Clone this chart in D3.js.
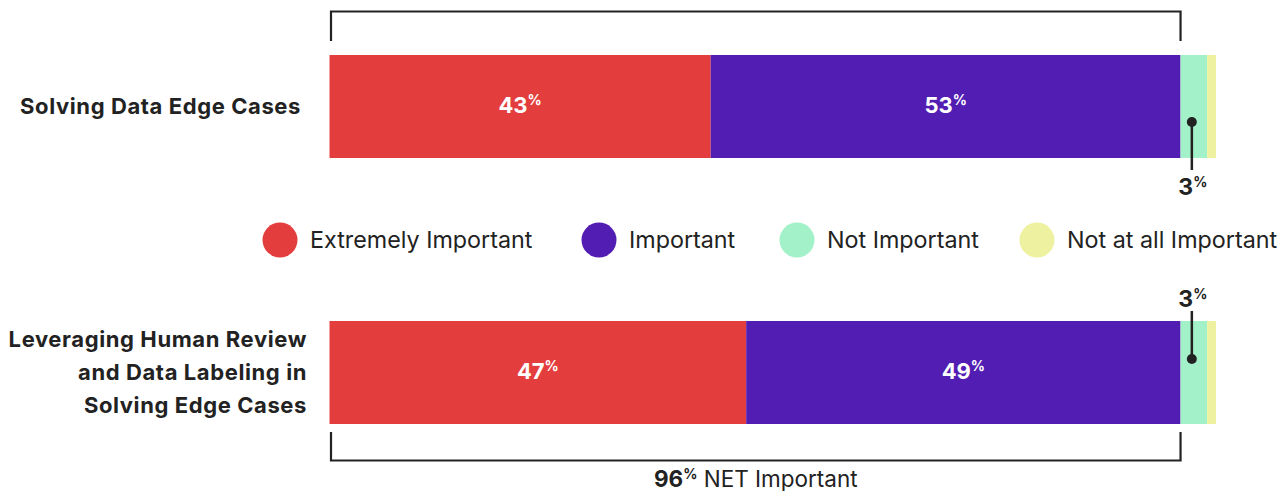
<!DOCTYPE html>
<html>
<head>
<meta charset="utf-8">
<script src="https://cdn.jsdelivr.net/npm/d3@7"></script>
<style>
  html, body { margin: 0; padding: 0; background: #fff; }
  svg { display: block; font-family: Inter, "Noto Sans", sans-serif; }
</style>
</head>
<body>
<svg id="chart" width="1286" height="491"></svg>
<script>
// Survey items and response shares (%)
const questions = [
  ["Solving Data Edge Cases"],
  ["Leveraging Human Review", "and Data Labeling in", "Solving Edge Cases"]
];
const responses = ["Extremely Important", "Important", "Not Important", "Not at all Important"];
const colors = ["#e33e3d", "#521db3", "#a2f1c8", "#eef2a0"];
const extremelyImportant = [43, 47];
const important = [53, 49];
const notImportant = [3, 3];
const notAtAllImportant = [1, 1];
const netImportant = 96;

const series = [extremelyImportant, important, notImportant, notAtAllImportant];

const svg = d3.select("#chart");
const ink = "#222";

const x = d3.scaleLinear().domain([0, 100]).range([329.5, 1216]);
const bandY = d3.scalePoint().domain([0, 1]).range([55, 321]);
const barH = 103;

// value text with a raised, smaller percent sign
function pct(sel, v, size, supSize, supDy) {
  sel.append("tspan").text(v);
  sel.append("tspan").attr("font-size", supSize).attr("dy", supDy).text("%");
}

questions.forEach((q, qi) => {
  let acc = 0;
  const segs = series.map((s, si) => {
    const seg = { si, v: s[qi], x0: acc, x1: acc + s[qi] };
    acc += s[qi];
    return seg;
  });
  const g = svg.append("g").attr("transform", `translate(0,${bandY(qi)})`);
  g.selectAll("rect").data(segs).join("rect")
    .attr("x", d => x(d.x0))
    .attr("width", d => x(d.x1) - x(d.x0))
    .attr("y", 0).attr("height", barH)
    .attr("fill", d => colors[d.si]);

  // value labels inside the two large segments
  g.selectAll("text.val").data(segs.filter(d => d.si < 2)).join("text")
    .attr("class", "val")
    .attr("x", d => (x(d.x0) + x(d.x1)) / 2)
    .attr("y", barH / 2 + 6)
    .attr("text-anchor", "middle")
    .attr("fill", "#fff")
    .attr("font-weight", 700)
    .attr("font-size", 22)
    .each(function (d) { pct(d3.select(this), d.v, 22, 14, -8); });

  // callout for the "Not Important" slice
  const ni = segs[2];
  const cx = (x(ni.x0) + x(ni.x1)) / 2 - 2;
  const dotY = qi === 0 ? 67 : 38;
  const endY = qi === 0 ? 115 : -10;
  g.append("line")
    .attr("x1", cx).attr("x2", cx)
    .attr("y1", dotY).attr("y2", endY)
    .attr("stroke", ink).attr("stroke-width", 2.5);
  g.append("circle").attr("cx", cx).attr("cy", dotY).attr("r", 5).attr("fill", ink);
  const cl = g.append("text")
    .attr("x", cx + 1)
    .attr("y", qi === 0 ? 139.5 : -14.5)
    .attr("text-anchor", "middle")
    .attr("fill", ink)
    .attr("font-weight", 700)
    .attr("font-size", 23);
  pct(cl, ni.v, 23, 14, -8);

  // question label, right aligned
  const lh = 33;
  const startY = barH / 2 - (q.length - 1) * lh / 2 + 7;
  const ql = g.append("text")
    .attr("text-anchor", "end")
    .attr("fill", ink)
    .attr("font-weight", 700)
    .attr("font-size", 22)
    .attr("letter-spacing", 0.6);
  q.forEach((t, i) => {
    ql.append("tspan").attr("x", qi === 0 ? 301 : 307).attr("y", startY + i * lh).text(t);
  });
});

// NET Important brackets
const netX0 = x(0) + 1.5, netX1 = x(netImportant);
svg.append("path")
  .attr("d", `M${netX0},41 V11.5 H${netX1} V41`)
  .attr("fill", "none").attr("stroke", ink).attr("stroke-width", 2.2);
svg.append("path")
  .attr("d", `M${netX0},432 V460.5 H${netX1} V432`)
  .attr("fill", "none").attr("stroke", ink).attr("stroke-width", 2.2);

const net = svg.append("text")
  .attr("x", (netX0 + netX1) / 2)
  .attr("y", 487)
  .attr("text-anchor", "middle")
  .attr("fill", ink)
  .attr("font-size", 22.5);
net.append("tspan").attr("font-weight", 700).text(netImportant);
net.append("tspan").attr("font-weight", 700).attr("font-size", 14).attr("dy", -8).text("%");
net.append("tspan").attr("dy", 8).text(" NET Important");

// legend
const legendX = [280, 599, 797, 1037];
const lg = svg.append("g").selectAll("g").data(responses).join("g")
  .attr("transform", (d, i) => `translate(${legendX[i]},240)`);
lg.append("circle").attr("r", 17.5).attr("fill", (d, i) => colors[i]);
lg.append("text")
  .attr("x", 30).attr("y", 7.5)
  .attr("fill", ink)
  .attr("font-size", 23.3)
  .text(d => d);
</script>
</body>
</html>
